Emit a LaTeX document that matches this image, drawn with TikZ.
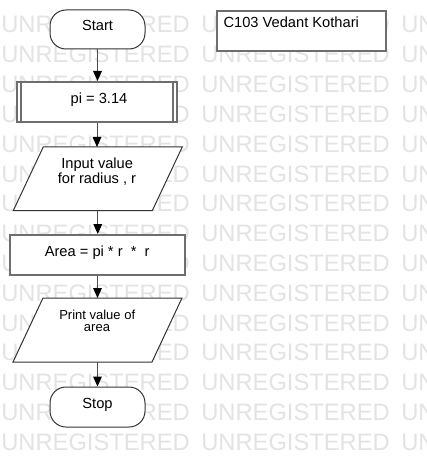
\documentclass[tikz,border=0pt]{standalone}
\usepackage{fontspec}
\setmainfont{Liberation Sans}
\usetikzlibrary{calc,arrows.meta}
\begin{document}
\begin{tikzpicture}[x=0.75pt,y=-0.75pt,
  wm/.style={anchor=base west, inner sep=0pt, text=black!11, font=\fontsize{17.8}{20}\selectfont},
  term/.style={draw=black!80, fill=white, line width=0.75pt, rounded corners=12pt,
    minimum width=71.25pt, minimum height=29.25pt, inner sep=0pt},
  procbox/.style={draw=black!57, fill=white, line width=1.5pt, inner sep=0pt},
  procbar/.style={draw=black!57, line width=1pt},
  iobox/.style={inner sep=0pt, outer sep=0pt},
  iopath/.style={draw=black!80, fill=white, line width=0.75pt, line join=miter},
  lbl/.style={anchor=base, inner sep=0pt, font=\fontsize{11}{13}\selectfont},
  lblsmall/.style={anchor=base, inner sep=0pt, font=\fontsize{9.75}{11}\selectfont},
  conn/.style={draw=black!70, line width=0.75pt,
    -{Triangle[length=7.5pt,width=6.5pt,color=black]}}
]
\fill[white] (0,0) rectangle (426,467);
\useasboundingbox (0,0) rectangle (426,467);
% watermark
\begin{scope}
  \clip (0,0) rectangle (426,467);
  \foreach \k in {0,...,14}
    \foreach \xx in {1,201,401}
      \node[wm] (wm-\k-\xx) at (\xx,{33+29.8*\k}) {UNREGISTERED};
\end{scope}

% shapes
\node[term] (start) at (97.5,29.5) {};
\node[lbl] (starttxt) at (97.5,30.7) {Start};

\node[procbox, minimum width=120pt, minimum height=30pt] (pi) at (97,102) {};
\draw[procbar] ($(pi.north west)+(5,0)$) -- ($(pi.south west)+(5,0)$);
\draw[procbar] ($(pi.north east)+(-5,0)$) -- ($(pi.south east)+(-5,0)$);
\node[lbl] (pitxt) at (99,103.3) {pi = 3.14};

\node[iobox, minimum width=104.25pt, minimum height=47.8pt] (inp) at (97.75,178.85) {};
\draw[iopath] ($(inp.north west)+(15,0)$) -- ($(inp.north east)+(15,0)$)
  -- ($(inp.south east)+(-15,0)$) -- ($(inp.south west)+(-15,0)$) -- cycle;
\node[lbl] (inp1) at (97.2,168.3) {Input value};
\node[lbl] (inp2) at (97,183.3) {for radius , r};

\node[procbox, minimum width=131.25pt, minimum height=30pt] (area) at (97.5,255) {};
\node[lbl] (areatxt) at (97.2,256.7) {Area = pi * r \ * \ r};

\node[iobox, minimum width=104.25pt, minimum height=48pt] (prt) at (97.5,330) {};
\draw[iopath] ($(prt.north west)+(15,0)$) -- ($(prt.north east)+(15,0)$)
  -- ($(prt.south east)+(-15,0)$) -- ($(prt.south west)+(-15,0)$) -- cycle;
\node[lblsmall] (prt1) at (97.2,319.3) {Print value of};
\node[lblsmall] (prt2) at (97,331.7) {area};

\node[term, minimum height=30pt] (stop) at (97.5,407) {};
\node[lbl] (stoptxt) at (97.5,408.3) {Stop};

\node[procbox, minimum width=126.75pt, minimum height=30pt] (ved) at (301.5,31) {};
\node[lbl, anchor=base west] (vedtxt) at (223.3,28) {C103 Vedant Kothari};

% connectors
\draw[conn] (start.south) -- (start.south |- pi.north);
\draw[conn] (pi.south) -- (pi.south |- inp.north);
\draw[conn] (inp.south) -- (inp.south |- area.north);
\draw[conn] (area.south) -- (area.south |- prt.north);
\draw[conn] (prt.south) -- (prt.south |- stop.north);
\end{tikzpicture}
\end{document}
